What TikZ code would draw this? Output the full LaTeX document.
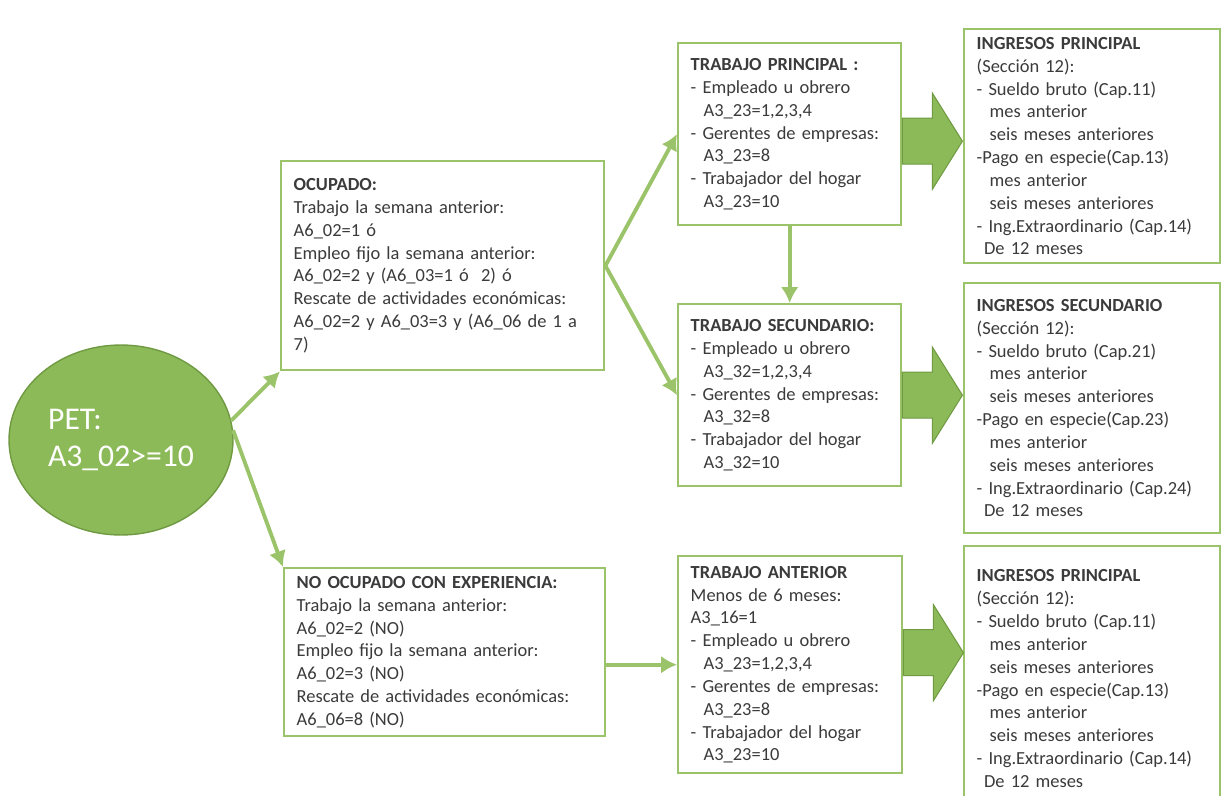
\documentclass[tikz,border=0pt]{standalone}
\usepackage{fontspec}
\setmainfont{Carlito}
\usepackage{tikz}
\usetikzlibrary{arrows.meta,shapes,calc}
\definecolor{petgreen}{HTML}{8CBA58}
\definecolor{linegreen}{HTML}{9BC36A}
\definecolor{edgegreen}{HTML}{6F9A42}
\definecolor{boxtext}{HTML}{3B3B3B}
\newcommand{\ind}{\hspace*{0.7em}}

\begin{document}
\begin{tikzpicture}[x=0.02cm, y=-0.02cm]
\tikzstyle{rect}=[rectangle, draw=linegreen, line width=1.4pt, fill=white, text=boxtext, font=\fontsize{10.5}{13}\selectfont, align=left, inner xsep=0.25cm, inner ysep=2pt, anchor=north west]
\tikzstyle{main}=[ellipse, draw=edgegreen, line width=0.8pt, fill=petgreen, text=white, font=\fontsize{18}{21}\selectfont, align=left, minimum width=4.48cm, minimum height=3.8cm]
\tikzstyle{connect}=[-{Latex[length=9pt,width=10pt]}, line width=2.2pt, draw=linegreen]
\tikzstyle{bigarrow}=[fill=petgreen, draw=edgegreen, line width=0.6pt]

\useasboundingbox (0,0) rectangle (1221,795);
\clip (0,0) rectangle (1221,795);

  % left column
  \node[main] (pet) at (121,440) {PET:\\A3\_02>=10};

  \node[rect, text width=5.96cm, minimum height=4.18cm] (ocup) at (280,160)
    {\textbf{OCUPADO:}\\
     Trabajo la semana anterior:\\
     A6\_02=1 ó\\
     Empleo fijo la semana anterior:\\
     A6\_02=2 y (A6\_03=1 ó\ \ 2) ó\\
     Rescate de actividades económicas:\\
     A6\_02=2 y A6\_03=3 y (A6\_06 de 1 a\\
     7)};
  \node[rect, text width=5.92cm, minimum height=3.36cm] (noocup) at (283,567)
    {\textbf{NO OCUPADO CON EXPERIENCIA:}\\
     Trabajo la semana anterior:\\
     A6\_02=2 (NO)\\
     Empleo fijo la semana anterior:\\
     A6\_02=3 (NO)\\
     Rescate de actividades económicas:\\
     A6\_06=8 (NO)};

  % middle column
  \node[rect, text width=3.96cm, minimum height=3.64cm] (tprin) at (677,42)
    {\textbf{TRABAJO PRINCIPAL :}\\
     - Empleado u obrero\\
     \ind A3\_23=1,2,3,4\\
     - Gerentes de empresas:\\
     \ind A3\_23=8\\
     - Trabajador del hogar\\
     \ind A3\_23=10};
  \node[rect, text width=3.96cm, minimum height=3.64cm] (tsec) at (677,303)
    {\textbf{TRABAJO SECUNDARIO:}\\
     - Empleado u obrero\\
     \ind A3\_32=1,2,3,4\\
     - Gerentes de empresas:\\
     \ind A3\_32=8\\
     - Trabajador del hogar\\
     \ind A3\_32=10};
  \node[rect, text width=3.98cm, minimum height=4.34cm] (tant) at (677,555)
    {\textbf{TRABAJO ANTERIOR}\\
     Menos de 6 meses:\\
     A3\_16=1\\
     - Empleado u obrero\\
     \ind A3\_23=1,2,3,4\\
     - Gerentes de empresas:\\
     \ind A3\_23=8\\
     - Trabajador del hogar\\
     \ind A3\_23=10};

  % right column
  \node[rect, text width=4.62cm, minimum height=4.68cm] (ingprin) at (963,28)
    {\textbf{INGRESOS PRINCIPAL}\\
     (Sección 12):\\
     - Sueldo bruto (Cap.11)\\
     \ind mes anterior\\
     \ind seis meses anteriores\\
     -Pago en especie(Cap.13)\\
     \ind mes anterior\\
     \ind seis meses anteriores\\
     - Ing.Extraordinario (Cap.14)\\
     \hspace*{0.4em}De 12 meses};
  \node[rect, text width=4.62cm, minimum height=5.0cm] (ingsec) at (963,282)
    {\textbf{INGRESOS SECUNDARIO}\\
     (Sección 12):\\
     - Sueldo bruto (Cap.21)\\
     \ind mes anterior\\
     \ind seis meses anteriores\\
     -Pago en especie(Cap.23)\\
     \ind mes anterior\\
     \ind seis meses anteriores\\
     - Ing.Extraordinario (Cap.24)\\
     \hspace*{0.4em}De 12 meses};
  \node[rect, text width=4.62cm, minimum height=5.3cm] (ingant) at (963,545)
    {\textbf{INGRESOS PRINCIPAL}\\
     (Sección 12):\\
     - Sueldo bruto (Cap.11)\\
     \ind mes anterior\\
     \ind seis meses anteriores\\
     -Pago en especie(Cap.13)\\
     \ind mes anterior\\
     \ind seis meses anteriores\\
     - Ing.Extraordinario (Cap.14)\\
     \hspace*{0.4em}De 12 meses};

  \path (pet.10) edge [connect] (ocup.south west);
  \path (pet.5) edge [connect] (noocup.north west);
  \path (ocup.east) edge [connect] (tprin.west);
  \path (ocup.east) edge [connect] (tsec.west);
  \path (tprin.south) edge [connect] (tsec.north);
  \path (noocup.east |- tant.west) edge [connect] (tant.west);

  % block arrows to the income boxes
  \draw[bigarrow, shift={($(tprin.east)+(0,7)$)}] (0,-23) -- (30,-23) -- (30,-48) -- (60,0) -- (30,48) -- (30,23) -- (0,23) -- cycle;
  \draw[bigarrow, shift={(tsec.east)}] (0,-23) -- (30,-23) -- (30,-48) -- (60,0) -- (30,48) -- (30,23) -- (0,23) -- cycle;
  \draw[bigarrow, shift={($(tant.east)+(0,-12)$)}] (0,-23) -- (30,-23) -- (30,-48) -- (60,0) -- (30,48) -- (30,23) -- (0,23) -- cycle;

\end{tikzpicture}
\end{document}
